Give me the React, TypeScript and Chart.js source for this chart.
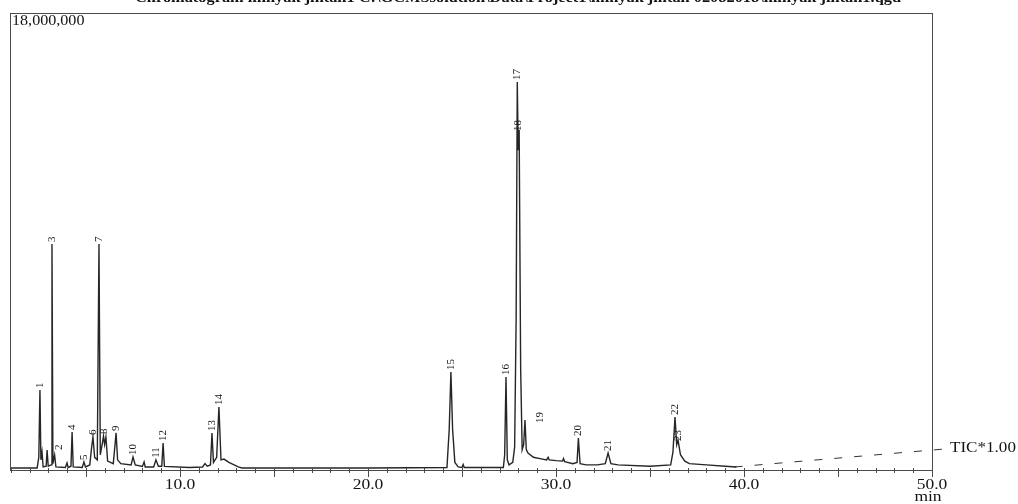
import React, { useEffect, useRef } from "react";
import { Chart, registerables } from "chart.js";

Chart.register(...registerables);

// Retention time (min) and TIC intensity (millions of counts) of the trace
const traceTimes = [
  0.96, 2.40, 2.49, 2.55, 2.60, 2.66, 2.72, 2.88, 2.93, 2.99,
  3.14, 3.19, 3.24, 3.33, 3.40, 3.90, 3.99, 4.05, 4.20, 4.26,
  4.32, 4.80, 4.89, 4.97, 5.20, 5.30, 5.37, 5.46, 5.60, 5.69,
  5.76, 5.88, 5.93, 5.99, 6.06, 6.15, 6.45, 6.52, 6.60, 6.68,
  6.85, 7.40, 7.50, 7.62, 8.00, 8.09, 8.15, 8.60, 8.72, 8.85,
  9.03, 9.10, 9.17, 10.5, 11.20, 11.33, 11.45, 11.62, 11.70, 11.78,
  11.95, 12.07, 12.18, 12.34, 12.60, 13.10, 13.30, 16.0, 20.0, 24.20,
  24.32, 24.41, 24.50, 24.62, 24.80, 25.00, 25.06, 25.12, 27.20, 27.27,
  27.34, 27.41, 27.50, 27.70, 27.80, 27.88, 27.94, 27.99, 28.04, 28.12,
  28.20, 28.28, 28.35, 28.42, 28.51, 28.80, 29.15, 29.50, 29.58, 29.64,
  30.00, 30.35, 30.40, 30.46, 30.90, 31.12, 31.19, 31.28, 31.60, 32.20,
  32.62, 32.77, 32.92, 33.30, 35.00, 36.10, 36.22, 36.33, 36.42, 36.49,
  36.62, 36.85, 37.10, 38.00, 39.00, 39.60,
];
const traceValues = [
  0.08, 0.08, 0.5, 3.15, 0.4, 0.71, 0.12, 0.15, 0.79, 0.15,
  0.2, 8.9, 0.25, 0.59, 0.12, 0.1, 0.28, 0.1, 0.15, 1.5,
  0.12, 0.1, 0.32, 0.12, 0.2, 0.9, 1.3, 0.5, 0.4, 8.9,
  0.6, 1.1, 1.34, 1.0, 1.3, 0.35, 0.25, 0.8, 1.46, 0.4,
  0.25, 0.2, 0.51, 0.2, 0.14, 0.32, 0.12, 0.12, 0.4, 0.15,
  0.15, 1.06, 0.14, 0.1, 0.12, 0.25, 0.15, 0.2, 1.46, 0.3,
  0.5, 2.48, 0.4, 0.43, 0.3, 0.12, 0.08, 0.08, 0.08, 0.1,
  1.6, 3.86, 1.6, 0.3, 0.12, 0.1, 0.22, 0.1, 0.1, 0.6,
  3.66, 0.4, 0.2, 0.3, 0.9, 6.0, 15.28, 12.6, 13.4, 4.0,
  0.8, 1.0, 1.97, 0.8, 0.67, 0.5, 0.45, 0.4, 0.5, 0.4,
  0.37, 0.35, 0.45, 0.33, 0.25, 0.3, 1.26, 0.25, 0.2, 0.2,
  0.25, 0.67, 0.25, 0.2, 0.15, 0.2, 0.7, 2.09, 1.0, 1.18,
  0.6, 0.35, 0.25, 0.2, 0.15, 0.12,
];

// Dashed TIC baseline marker
const ticTimes = [39.5, 50.7];
const ticValues = [0.12, 0.83];

// Peak numbers and where their labels sit (time, intensity in millions)
const peakLabels = [
  "1", "2", "3", "4", "5", "6", "7", "8", "9", "10", "11", "12",
  "13", "14", "15", "16", "17", "18", "19", "20", "21", "22", "23",
];
const peakLabelTimes = [
  2.55, 3.55, 3.19, 4.26, 4.89, 5.37, 5.69, 5.96, 6.60, 7.50, 8.72, 9.10,
  11.70, 12.07, 24.41, 27.34, 27.95, 27.98, 29.15, 31.19, 32.77, 36.33, 36.49,
];
const peakLabelValues = [
  3.15, 0.71, 8.9, 1.5, 0.32, 1.3, 8.9, 1.34, 1.46, 0.51, 0.4, 1.06,
  1.46, 2.48, 3.86, 3.66, 15.28, 13.27, 1.77, 1.26, 0.67, 2.09, 1.06,
];

const xTickLabels = [10, 20, 30, 40, 50];
const yMaxLabel = "18,000,000";
const titleText =
  "Chromatogram minyak jintan1 C:\\GCMSsolution\\Data\\Project1\\minyak jintan 02082018\\minyak jintan1.qgd";
const ticLabel = "TIC*1.00";
const xUnit = "min";

const M = 1e6;

function stretchedText(ctx: CanvasRenderingContext2D, s: string, x: number, y: number, align: CanvasTextAlign, sx: number) {
  ctx.save();
  ctx.translate(x, y);
  ctx.scale(sx, 1);
  ctx.textAlign = align;
  ctx.fillText(s, 0, 0);
  ctx.restore();
}

const chromPlugin = {
  id: "chrom",
  afterDraw(chart: any) {
    const { ctx, chartArea } = chart;
    const { left, right, top, bottom } = chartArea;
    const xs = chart.scales.x;
    const ys = chart.scales.y;
    ctx.save();
    // frame
    ctx.strokeStyle = "#4a4a4a";
    ctx.lineWidth = 1;
    ctx.strokeRect(left + 0.5, top + 0.5, right - left, bottom - top);
    // ticks
    ctx.beginPath();
    for (let t = Math.ceil(xs.min); t <= xs.max; t++) {
      const px = Math.round(xs.getPixelForValue(t)) + 0.5;
      const major = t % 5 === 0;
      ctx.moveTo(px, bottom - 2);
      ctx.lineTo(px, bottom + (major ? 7 : 3));
    }
    ctx.stroke();

    ctx.fillStyle = "#141414";
    ctx.textBaseline = "alphabetic";
    ctx.font = "14px 'Liberation Serif', serif";
    for (const v of xTickLabels) {
      stretchedText(ctx, v.toFixed(1), xs.getPixelForValue(v), 489, "center", 1.25);
    }
    stretchedText(ctx, xUnit, xs.getPixelForValue(50) - 4, 501, "center", 1.25);
    stretchedText(ctx, yMaxLabel, left + 2, top + 12, "left", 1.15);
    ctx.font = "14px 'Liberation Serif', serif";
    stretchedText(ctx, ticLabel, 950, 452, "left", 1.22);

    // title (cut at the top)
    ctx.font = "bold 14px 'Liberation Serif', serif";
    const w = ctx.measureText(titleText).width;
    stretchedText(ctx, titleText, 518, 2, "center", 766 / w);

    // peak labels
    ctx.font = "11px 'Liberation Serif', serif";
    ctx.textAlign = "left";
    ctx.textBaseline = "middle";
    peakLabels.forEach((lab, i) => {
      const px = xs.getPixelForValue(peakLabelTimes[i]);
      const py = ys.getPixelForValue(peakLabelValues[i] * M) - 2;
      ctx.save();
      ctx.translate(px, py);
      ctx.rotate(-Math.PI / 2);
      ctx.fillText(lab, 0, 0);
      ctx.restore();
    });
    ctx.restore();
  },
};

export default function App() {
  const ref = useRef<HTMLCanvasElement | null>(null);
  useEffect(() => {
    if (!ref.current) return;
    const chart = new Chart(ref.current, {
      type: "line",
      data: {
        datasets: [
          {
            data: traceTimes.map((t, i) => ({ x: t, y: traceValues[i] * M })),
            borderColor: "#262626",
            borderWidth: 1.4,
            pointRadius: 0,
            tension: 0,
          },
          {
            data: ticTimes.map((t, i) => ({ x: t, y: ticValues[i] * M })),
            borderColor: "#333",
            borderWidth: 1,
            borderDash: [8, 12],
            pointRadius: 0,
            clip: false as any,
          },
        ],
      },
      options: {
        responsive: false,
        animation: false,
        layout: { padding: { left: 10, right: 86, top: 13, bottom: 34 } },
        scales: {
          x: { type: "linear", min: 0.957, max: 50, display: false },
          y: { min: 0, max: 18 * M, display: false },
        },
        plugins: { legend: { display: false }, tooltip: { enabled: false } },
      },
      plugins: [chromPlugin],
    });
    return () => chart.destroy();
  }, []);
  return (
    <div style={{ position: "absolute", left: 0, top: 0, width: 1018, height: 504, background: "#fff" }}>
      <canvas ref={ref} width={1018} height={504} style={{ display: "block" }} />
    </div>
  );
}
